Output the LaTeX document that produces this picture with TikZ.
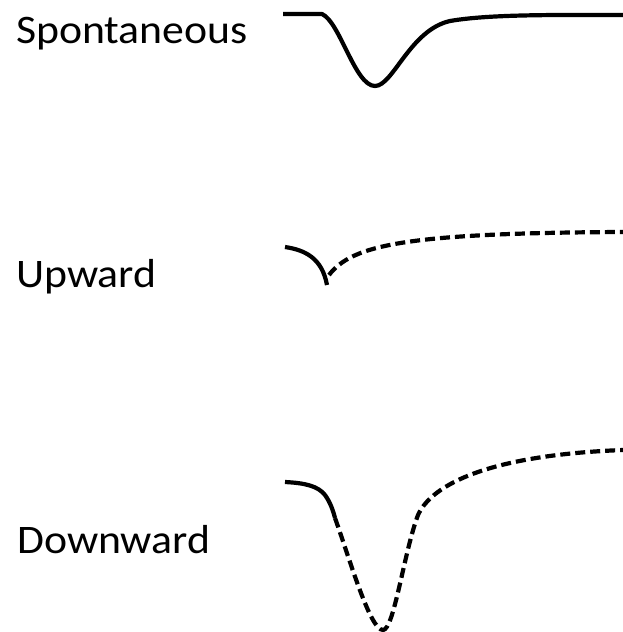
\documentclass[tikz,border=0pt]{standalone}
\usepackage{fontspec}
\setmainfont[FakeStretch=1.08]{Carlito}
\begin{document}
\begin{tikzpicture}[x=1pt,y=-1pt,
  lbl/.style={anchor=base west,inner sep=0pt,font=\fontsize{40.5}{42}\selectfont},
  curve/.style={line width=4.2pt,line join=round},
  dashcurve/.style={line width=4.2pt,dash pattern=on 10pt off 5pt}]
\useasboundingbox (0,0) rectangle (623,632);
% labels
\node[lbl] (ts) at (16,43) {Spontaneous};
\node[lbl] (tu) at (16,287) {Upward};
\node[lbl] (td) at (17,553) {Downward};
% Spontaneous
\coordinate (s0) at (283,14);
\coordinate (s1) at (322,14);
\coordinate (s2) at (375,86);
\coordinate (s3) at (450,21);
\coordinate (s4) at (623,15);
\draw[curve] (s0) -- (s1) .. controls (340,22) and (355,86) .. (s2)
  .. controls (393,86) and (410,30) .. (s3)
  .. controls (490,14) and (560,15) .. (s4);
% Upward
\coordinate (u0) at (285,247);
\coordinate (u1) at (327,285);
\coordinate (u2) at (329,275);
\coordinate (u3) at (623,232);
\draw[curve] (u0) .. controls (305,250) and (322,258) .. (u1);
\draw[dashcurve] (u2) .. controls (352,245) and (405,233) .. (u3);
% Downward
\coordinate (d0) at (285,482);
\coordinate (d1) at (335,518);
\coordinate (d2) at (383,630);
\coordinate (d3) at (418,515);
\coordinate (d4) at (623,450);
\draw[curve] (d0) .. controls (305,483) and (318,486) .. (325,495)
  .. controls (330,502) and (333,510) .. (d1);
\draw[dashcurve] (d1) .. controls (350,560) and (370,630) .. (d2)
  .. controls (394,630) and (404,552) .. (d3)
  .. controls (432,484) and (490,455) .. (d4);
\end{tikzpicture}
\end{document}
